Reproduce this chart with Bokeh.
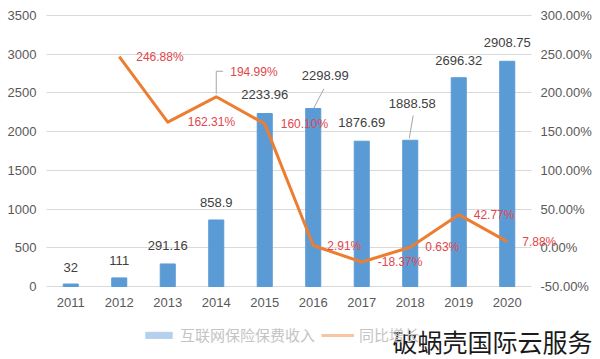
from bokeh.plotting import figure
from bokeh.models import (Range1d, LinearAxis, FixedTicker, PrintfTickFormatter,
                          ColumnDataSource, LabelSet, Legend, LegendItem, Label)
from bokeh.core.properties import value
from bokeh.embed import file_html
from bokeh.resources import INLINE

# ---- data ----
years = [2011, 2012, 2013, 2014, 2015, 2016, 2017, 2018, 2019, 2020]
premium = [32, 111, 291.16, 858.9, 2233.96, 2298.99, 1876.69, 1888.58, 2696.32, 2908.75]
premium_labels = ["32", "111", "291.16", "858.9", "2233.96", "2298.99",
                  "1876.69", "1888.58", "2696.32", "2908.75"]
growth_years = [2012, 2013, 2014, 2015, 2016, 2017, 2018, 2019, 2020]
growth = [246.88, 162.31, 194.99, 160.10, 2.91, -18.37, 0.63, 42.77, 7.88]
growth_labels = ["246.88%", "162.31%", "194.99%", "160.10%", "2.91%",
                 "-18.37%", "0.63%", "42.77%", "7.88%"]
left_ticks = [0, 500, 1000, 1500, 2000, 2500, 3000, 3500]
right_ticks = [-50, 0, 50, 100, 150, 200, 250, 300]
series_names = ["互联网保险保费收入", "同比增长"]
watermark = "破蜗壳国际云服务"

# ---- label placement (screen px offsets) ----
premium_dx = [0, 0, 0, 0, 0, 12, 0, 2, 0, 0]
premium_dy = [17, 17, 18, 17, 19, 33, 19, 37, 17, 19]
growth_dx = [17, 20, 14, 16, 14, 16, 15, 15, 15]
growth_dy = [0, 0, 25, 0, 0, 0, 0, 0, 0]

# ---- layout: plot box inside a full-canvas frame ----
W, H = 600, 359
BOX_L, BOX_R, BOX_T, BOX_B = 46, 531, 15, 286
X0, X1 = years[0] - 0.5, years[-1] + 0.5
Y0, Y1 = left_ticks[0], left_ticks[-1]
P0, P1 = right_ticks[0], right_ticks[-1]
xu = (X1 - X0) / (BOX_R - BOX_L)
yu = (Y1 - Y0) / (BOX_B - BOX_T)
pu = (P1 - P0) / (BOX_B - BOX_T)

BLUE = "#5B9BD5"
ORANGE = "#ED7D31"
GRID = "#D9D9D9"
TXT = "#595959"
RED = "#E0474C"
FONT = "Liberation Sans"

p = figure(width=W, height=H,
           x_range=Range1d(X0 - BOX_L * xu, X1 + (W - BOX_R) * xu),
           y_range=Range1d(Y0 - (H - BOX_B) * yu, Y1 + BOX_T * yu),
           output_backend="svg", toolbar_location=None, min_border=0)
p.extra_y_ranges = {"pct": Range1d(P0 - (H - BOX_B) * pu, P1 + BOX_T * pu)}
p.outline_line_color = None
p.background_fill_color = "white"
p.border_fill_color = "white"

# axes (fixed inside the canvas)
p.xaxis.fixed_location = 0
p.xaxis.ticker = FixedTicker(ticks=years)
p.xaxis.axis_line_color = None
p.xaxis.major_tick_line_color = None
p.xaxis.minor_tick_line_color = None
p.xaxis.major_tick_out = 0
p.xaxis.major_label_standoff = 11
p.xaxis.major_label_text_font = FONT
p.xaxis.major_label_text_font_size = "13px"
p.xaxis.major_label_text_color = TXT

p.yaxis.fixed_location = X0
p.yaxis.ticker = FixedTicker(ticks=left_ticks)
p.yaxis.axis_line_color = None
p.yaxis.major_tick_line_color = None
p.yaxis.minor_tick_line_color = None
p.yaxis.major_tick_out = 0
p.yaxis.major_label_standoff = 10
p.yaxis.major_label_text_font = FONT
p.yaxis.major_label_text_font_size = "13px"
p.yaxis.major_label_text_color = TXT

ax2 = LinearAxis(y_range_name="pct", ticker=FixedTicker(ticks=right_ticks),
                 formatter=PrintfTickFormatter(format="%.2f%%"), fixed_location=X1)
ax2.axis_line_color = None
ax2.major_tick_line_color = None
ax2.minor_tick_line_color = None
ax2.major_tick_out = 0
ax2.major_label_standoff = 9
ax2.major_label_text_font = FONT
ax2.major_label_text_font_size = "13px"
ax2.major_label_text_color = TXT
p.add_layout(ax2, "right")

p.xgrid.visible = False
p.ygrid.ticker = FixedTicker(ticks=left_ticks)
p.ygrid.grid_line_color = GRID
p.ygrid.cross_bounds = (X0, X1)

# bars and line
bar_src = ColumnDataSource(dict(x=years, top=premium, lab=premium_labels,
                                dx=premium_dx, dy=premium_dy))
p.vbar(x="x", top="top", width=0.31, color=BLUE, source=bar_src)
line_src = ColumnDataSource(dict(x=growth_years, y=growth, lab=growth_labels,
                                 dx=growth_dx, dy=growth_dy))
p.line(x="x", y="y", y_range_name="pct", color=ORANGE, line_width=3,
       line_join="round", source=line_src)

# leader lines
i14 = growth_years.index(2014)
p.line(x=[growth_years[i14], growth_years[i14], growth_years[i14] + 0.14],
       y=[growth[i14] + 4, growth[i14] + 33, growth[i14] + 33],
       y_range_name="pct", color="#A6A6A6", line_width=1)
i16 = years.index(2016)
p.segment(x0=[years[i16] + 0.22], y0=[premium[i16] + 255],
          x1=[years[i16] + 0.01], y1=[premium[i16] + 5],
          color="#A6A6A6", line_width=1)
i18 = years.index(2018)
p.segment(x0=[years[i18] + 0.06], y0=[premium[i18] + 320],
          x1=[years[i18] - 0.02], y1=[premium[i18] + 25],
          color="#A6A6A6", line_width=1)

# data labels
p.add_layout(LabelSet(x="x", y="top", text="lab", x_offset="dx", y_offset="dy",
                      source=bar_src, text_align="center", text_baseline="middle",
                      text_font=value(FONT), text_font_size="13px",
                      text_color="#404040"))
p.add_layout(LabelSet(x="x", y="y", text="lab", x_offset="dx", y_offset="dy",
                      y_range_name="pct", source=line_src, text_align="left",
                      text_baseline="middle", text_font=value(FONT),
                      text_font_size="12px", text_color=RED))

# legend (faded style as in reference); proxies hold no visible data
nan = float("nan")
leg_bar = p.vbar(x=[nan], top=[nan], width=0.3, color="#B4D0EC")
leg_line = p.line(x=[nan, nan], y=[nan, nan], color="#F6C6A2", line_width=3)
legend = Legend(items=[LegendItem(label=series_names[0], renderers=[leg_bar]),
                       LegendItem(label=series_names[1], renderers=[leg_line])],
                orientation="horizontal", location=(142, 14),
                glyph_width=33, glyph_height=8, label_standoff=5, spacing=6,
                padding=0, margin=0, border_line_color=None,
                background_fill_alpha=0,
                label_text_font="Noto Sans CJK SC", label_text_font_size="15px",
                label_text_color="#C4C4C4")
p.add_layout(legend, "center")

# watermark
p.add_layout(Label(x=392, y=H - 340, x_units="screen", y_units="screen",
                   text=watermark, text_align="left", text_baseline="middle",
                   text_font="Noto Sans CJK SC", text_font_size="25px",
                   text_color="#1A1A1A"))

open("out.html", "w").write(file_html(p, INLINE))
